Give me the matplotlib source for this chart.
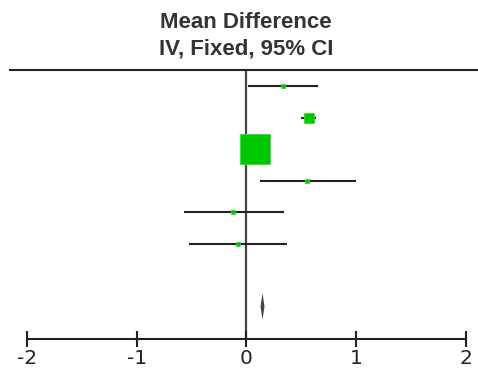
import matplotlib

matplotlib.use("Agg")
import matplotlib.pyplot as plt
import numpy as np

# Forest plot: mean difference, IV fixed, 95% CI
md = [0.33, 0.565, 0.078, 0.555, -0.12, -0.08]
ci_low = [0.01, 0.50, 0.00, 0.12, -0.57, -0.52]
ci_high = [0.65, 0.63, 0.15, 1.00, 0.34, 0.37]
weight = [2.0, 9.1, 81.8, 2.0, 2.0, 2.0]  # percent, drives box size
total_md = 0.146
total_low = 0.128
total_high = 0.164
xticks = [-2, -1, 0, 1, 2]

GREEN = "#00C800"
INK = "#222222"

W, H = 478, 369
fig = plt.figure(figsize=(W / 100, H / 100), dpi=100)

# axes box: x = -2..2 spans px 27..466, y spans px 70..339
x0, x1, ytop, ybot = 27, 466, 70, 339
ax = fig.add_axes([x0 / W, 1 - ybot / H, (x1 - x0) / W, (ybot - ytop) / H])
ax.set_xlim(-2, 2)
row0, step = 86, 31.5
ax.set_ylim((ybot - row0) / step, (ytop - row0) / step)

for s in ("left", "right", "top"):
    ax.spines[s].set_visible(False)
ax.spines["bottom"].set_linewidth(1.5)
ax.spines["bottom"].set_color(INK)
ax.set_yticks([])
ax.set_xticks(xticks)
ax.set_xticklabels([str(t) for t in xticks], family="DejaVu Sans")
ax.tick_params(axis="x", direction="inout", length=12, width=1.5, color=INK,
               labelsize=14.5, pad=1, labelcolor=INK)

# line of no effect
ax.axvline(0, color="#444444", lw=1.6, zorder=1)

# header rule, wider than the axis
ax.plot([(10 - x0) / (x1 - x0), (W - x0) / (x1 - x0)], [1, 1],
        transform=ax.transAxes, color=INK, lw=1.5, clip_on=False)

rows = np.arange(len(md))
ax.hlines(rows, ci_low, ci_high, color=INK, lw=1.5, zorder=2)
for r, m, w in zip(rows, md, weight):
    ax.plot(m, r, marker="s", ms=2.39 * np.sqrt(w), mfc=GREEN,
            mec="#33DD33", mew=0.6, ls="none", zorder=3)

# pooled estimate diamond
yd = 7.0
ax.fill([total_low, total_md, total_high, total_md],
        [yd, yd - 0.42, yd, yd + 0.42], color="#444444", lw=0, zorder=3)

for txt, ypx in (("Mean Difference", 22), ("IV, Fixed, 95% CI", 49)):
    fig.text(246 / W, 1 - ypx / H, txt, ha="center", va="center",
             fontsize=16.0, fontweight="bold", fontstretch="normal",
             family="Liberation Sans", color="#333333")

fig.savefig("out.png", dpi=100)
